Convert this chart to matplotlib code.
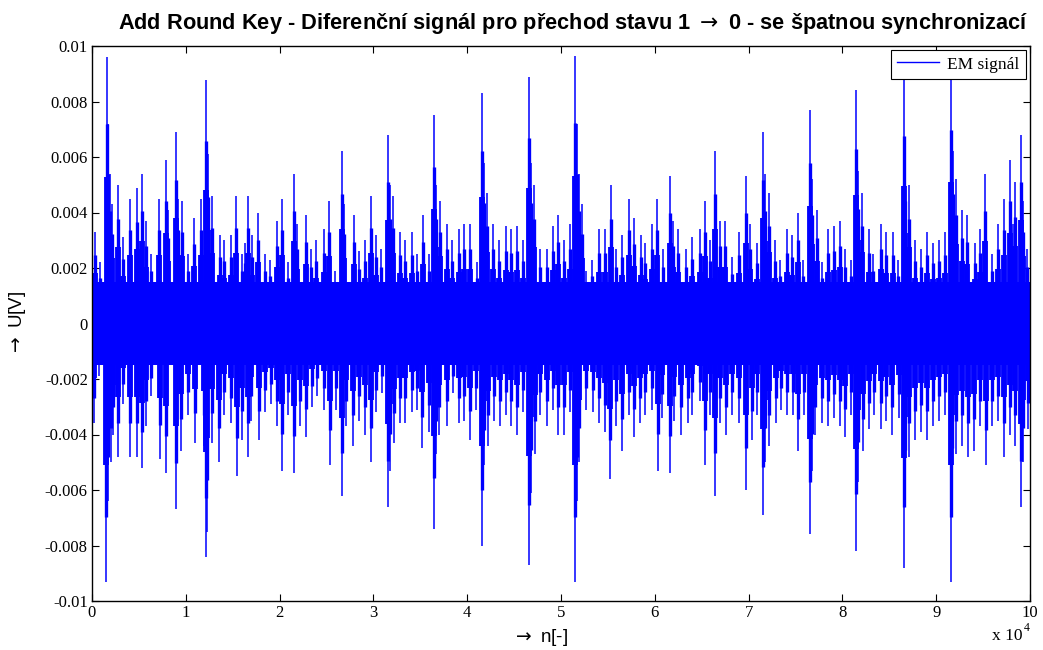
import numpy as np
import matplotlib
matplotlib.use("Agg")
import matplotlib.pyplot as plt
from matplotlib.ticker import FuncFormatter, MultipleLocator
from matplotlib.lines import Line2D

plt.rcParams["axes.unicode_minus"] = False
plt.rcParams["mathtext.fontset"] = "dejavusans"

# Positive peaks of the differential EM signal: sample index and amplitude [mV]
up_n = [300, 900, 1570, 1700, 1900, 2100, 2800, 3300, 4100, 4800, 5300, 5800, 6300,
        7100, 7900, 8100, 9000, 9200, 9600, 10200, 10900, 11600, 12200, 12400, 12800,
        13600, 14100, 14800, 15300, 16000, 16300, 16600, 17100, 17700, 18400, 19000,
        19700, 20300, 20900, 21500, 21900, 22800, 23400, 23900, 24700, 25300, 25900,
        26600, 26900, 27900, 28500, 29100, 29700, 30300, 30800, 31600, 31800, 32100,
        32800, 33400, 34100, 34600, 35300, 35900, 36500, 36700, 37100, 37800, 38400,
        39100, 39700, 40300, 41000, 41600, 41800, 42100, 42800, 43400, 44100, 44700,
        45300, 46000, 46600, 46800, 47100, 47800, 48500, 49100, 49700, 50300, 51000,
        51500, 51700, 51900, 52200, 52700, 53300, 54000, 54700, 55300, 55900, 56500,
        57200, 57800, 58500, 59000, 59700, 60200, 60900, 61600, 61900, 62500, 63300,
        64000, 64800, 65300, 65900, 66400, 66900, 67500, 68200, 69000, 69700, 70200,
        70900, 71500, 71700, 72200, 72800, 73400, 74100, 74600, 75300, 75800, 76500,
        76800, 77300, 77800, 78500, 79100, 79700, 80300, 80900, 81500, 81700, 82100,
        82800, 83300, 84100, 84600, 85400, 85900, 86600, 86700, 87100, 87700, 88400,
        89000, 89700, 90300, 90900, 91600, 91800, 92100, 92800, 93300, 94100, 94700,
        95200, 96000, 96600, 97200, 97900, 98200, 98400, 99000, 99300, 99700]
up_mv = [3.3, 2.2, 9.59, 7.2, 5.4, 4.3, 5.0, 3.1, 4.5, 4.9, 5.4, 3.7, 2.5,
         4.5, 5.9, 4.1, 6.9, 4.5, 4.4, 2.5, 3.8, 4.5, 8.76, 6.1, 4.6,
         3.2, 3.0, 3.2, 4.6, 2.5, 2.9, 4.6, 3.2, 4.0, 2.5, 2.3,
         3.7, 4.5, 2.2, 5.4, 3.6, 3.9, 2.7, 3.0, 3.4, 4.4, 1.9,
         6.2, 4.3, 3.9, 2.6, 3.0, 4.6, 3.2, 2.7, 6.8, 5.0, 4.6,
         3.3, 3.0, 3.3, 2.5, 3.9, 2.5, 7.5, 5.0, 4.4, 3.6, 3.0,
         3.4, 3.6, 3.6, 2.2, 8.3, 5.8, 4.7, 3.6, 3.0, 3.5, 3.4,
         3.5, 3.0, 8.9, 5.8, 5.0, 2.7, 2.7, 3.5, 3.9, 3.0, 3.6,
         9.65, 7.2, 5.4, 4.3, 1.9, 2.3, 3.4, 3.4, 5.0, 2.7, 3.2,
         4.5, 3.8, 3.2, 2.9, 3.6, 4.5, 2.7, 5.3, 3.7, 3.4, 2.7,
         3.1, 3.4, 4.4, 3.0, 6.2, 3.7, 3.7, 2.4, 3.3, 5.3, 3.6,
         2.9, 6.9, 5.4, 4.7, 3.0, 2.3, 3.4, 3.2, 4.0, 2.3, 7.7,
         5.2, 4.1, 2.2, 3.4, 3.5, 3.7, 2.7, 2.3, 8.4, 5.5, 4.7,
         3.4, 2.5, 3.6, 3.3, 3.3, 2.3, 9.0, 5.9, 5.0, 3.0, 2.7,
         3.3, 2.9, 3.0, 3.3, 9.3, 6.2, 5.2, 4.1, 3.9, 2.9, 3.4,
         5.4, 2.5, 3.6, 4.5, 5.9, 3.6, 5.1, 6.8, 4.4, 2.7]

# Negative peaks: sample index and amplitude [mV]
lo_n = [200, 700, 1500, 1700, 2000, 2200, 2800, 3300, 4100, 4800, 5300, 5800, 6300,
        7200, 7900, 9000, 9500, 10200, 11000, 11900, 12200, 12300, 12800, 13500,
        14100, 14800, 15500, 16000, 16600, 17000, 17800, 18400, 19100, 19700, 20300,
        20900, 21500, 22200, 22800, 23500, 24000, 24700, 25400, 26000, 26600, 27100,
        27800, 28500, 29100, 29700, 30300, 30900, 31600, 31800, 32200, 32800, 33400,
        34100, 34600, 35200, 35900, 36500, 36700, 37000, 37800, 38500, 39100, 39700,
        40300, 40900, 41600, 41800, 42200, 42900, 43500, 44100, 44700, 45300, 46000,
        46600, 46800, 47200, 47800, 48500, 49100, 49700, 50300, 51000, 51500, 51700,
        51900, 52700, 53400, 54000, 54700, 55200, 55900, 56500, 57200, 57800, 58400,
        59000, 59700, 60300, 60800, 61600, 62100, 62800, 63500, 64000, 64800, 65300,
        65900, 66400, 66900, 67600, 68200, 69000, 69700, 70400, 70900, 71500, 71800,
        72200, 72900, 73500, 74100, 74700, 75300, 75900, 76500, 76800, 77100, 77800,
        78500, 79100, 79700, 80300, 80900, 81500, 81700, 82200, 82800, 83400, 84100,
        84600, 85300, 86000, 86600, 86700, 87100, 87700, 88400, 89000, 89700, 90300,
        90900, 91600, 91700, 92100, 92800, 93400, 94000, 94700, 95300, 96000, 96600,
        97200, 97900, 98400, 99000, 99300, 99800]
lo_mv = [-3.6, -1.9, -9.3, -6.4, -5.0, -4.0, -4.8, -2.9, -4.8, -4.8, -5.2, -3.7, -2.6,
         -4.9, -5.4, -6.7, -4.6, -3.3, -4.3, -4.4, -8.4, -7.5, -4.3, -5.0,
         -3.3, -3.6, -5.5, -4.2, -4.8, -3.5, -4.2, -3.2, -2.9, -3.7, -5.3,
         -3.3, -5.4, -3.7, -4.1, -3.0, -2.6, -3.1, -5.1, -3.1, -6.2, -3.7,
         -4.4, -3.5, -4.0, -5.0, -3.2, -2.5, -6.6, -5.3, -4.3, -3.6, -3.6,
         -3.2, -3.1, -4.5, -3.9, -7.4, -4.7, -4.0, -3.7, -2.5, -3.6, -3.5,
         -4.2, -3.1, -8.0, -5.1, -4.4, -3.5, -3.7, -3.3, -3.7, -4.0, -3.2,
         -8.7, -6.1, -4.7, -3.3, -3.7, -3.1, -4.0, -4.0, -3.2, -9.3, -6.4,
         -5.0, -3.1, -3.2, -3.6, -3.9, -5.6, -3.7, -4.6, -3.3, -4.1, -3.6,
         -3.3, -3.1, -5.3, -3.4, -5.4, -3.5, -4.0, -3.6, -3.3, -2.8, -5.1,
         -3.3, -6.2, -3.6, -4.0, -3.3, -3.6, -6.0, -4.2, -3.3, -6.9, -5.0,
         -4.4, -3.6, -3.1, -3.3, -3.3, -4.6, -3.3, -7.6, -5.3, -4.0, -3.6,
         -3.7, -3.4, -3.7, -4.1, -3.3, -8.2, -5.7, -4.6, -3.8, -3.3, -3.8,
         -3.5, -4.0, -3.4, -8.8, -6.1, -4.8, -4.2, -3.9, -4.2, -3.7, -3.5,
         -3.3, -9.3, -6.0, -4.7, -4.4, -4.8, -4.6, -3.7, -5.1, -3.7, -3.5,
         -4.8, -4.0, -4.4, -6.6, -5.0, -3.8]

# Amplitude of the dense noise floor [mV]
core_mv = 1.5
n_total = 100000

BLUE = "#0000ff"
SERIF = ["Liberation Serif", "DejaVu Serif"]
SANS = ["Liberation Sans", "DejaVu Sans"]

fig = plt.figure(figsize=(10.43, 6.5), dpi=100)
ax = fig.add_axes([92 / 1043, 49 / 650, 938 / 1043, 555 / 650])

up_n_a = np.array(up_n)
up_v = np.array(up_mv) * 1e-3
lo_n_a = np.array(lo_n)
lo_v = np.array(lo_mv) * 1e-3

# noise floor
ax.fill_between([0, n_total], -core_mv * 1e-3, core_mv * 1e-3,
                color=BLUE, linewidth=0)

# each burst: thin full-height stroke, heavier body near the baseline
for frac, lw in [(1.0, 1.1), (0.75, 2.4), (0.55, 4.2)]:
    ax.vlines(up_n_a, 0, up_v * frac, color=BLUE, linewidth=lw)
    ax.vlines(lo_n_a, 0, lo_v * frac, color=BLUE, linewidth=lw)

ax.set_xlim(0, n_total)
ax.set_ylim(-0.01, 0.01)
ax.xaxis.set_major_locator(MultipleLocator(10000))
ax.yaxis.set_major_locator(MultipleLocator(0.002))
ax.xaxis.set_major_formatter(FuncFormatter(lambda v, p: "%d" % round(v / 1e4)))
ax.yaxis.set_major_formatter(FuncFormatter(lambda v, p: "%g" % round(v, 6)))
ax.tick_params(direction="in", top=True, right=True, length=5, width=0.8,
               labelsize=12, pad=3)
for lab in ax.get_xticklabels() + ax.get_yticklabels():
    lab.set_family(SERIF)
for sp in ax.spines.values():
    sp.set_linewidth(1.0)

fig.text(573 / 1043, 1 - 23 / 650,
         r"Add Round Key - Diferenční signál pro přechod stavu 1 $\rightarrow$ 0 - se špatnou synchronizací",
         ha="center", va="center", fontsize=15.7, fontweight="bold", family=SANS)
ax.set_ylabel(r"$\rightarrow$ U[V]", fontsize=13.5, family=SANS)
ax.yaxis.set_label_coords(-0.068, 0.5)
ax.set_xlabel(r"$\rightarrow$ n[-]", fontsize=13.5, family=SANS)
ax.xaxis.set_label_coords(0.478, -0.047)

fig.text(1023 / 1043, 1 - 636 / 650, "x 10", ha="right", va="center",
         fontsize=12.5, family=SERIF)
fig.text(1024 / 1043, 1 - 628 / 650, "4", ha="left", va="center",
         fontsize=8.5, family=SERIF)

handle = Line2D([], [], color=BLUE, linewidth=1.0)
leg = ax.legend([handle], ["EM signál"], loc="upper right", frameon=True,
                fancybox=False, framealpha=1, edgecolor="black",
                borderaxespad=0.25, handlelength=2.4, borderpad=0.35,
                handletextpad=0.5, prop={"family": SERIF, "size": 12.5})
leg.get_frame().set_linewidth(0.8)

fig.savefig("out.png", dpi=100)
